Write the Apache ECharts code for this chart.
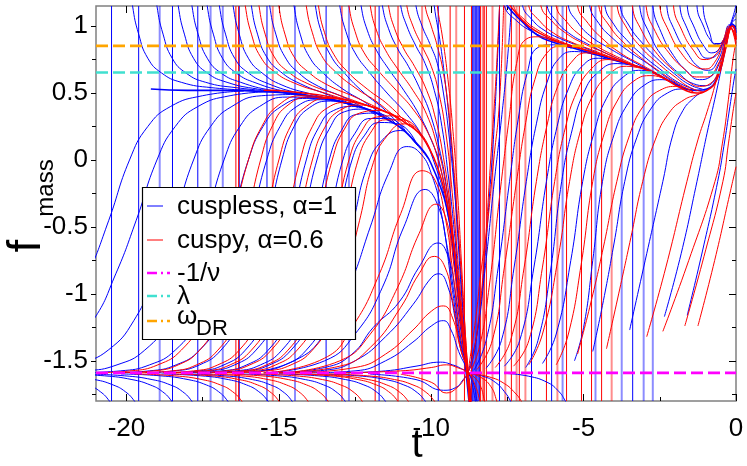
<!DOCTYPE html>
<html>
<head>
<meta charset="utf-8">
<script src="https://cdn.jsdelivr.net/npm/echarts@6/dist/echarts.min.js"></script>
<style>html,body{margin:0;padding:0;background:#fff}#c{width:747px;height:466px}</style>
</head>
<body>
<div id="c"></div>
<script>
// ---------- axes / reference values ----------
const xMin = -21, xMax = 0, yMin = -1.8, yMax = 1.15;
const xTicks = [-20, -15, -10, -5, 0];
const xMinorTicks = [-17.5, -12.5, -7.5, -2.5];
const yTicks = [-1.5, -1, -0.5, 0, 0.5, 1];
const yMinorTicks = [-1.75, -1.25, -0.75, -0.25, 0.25, 0.75];
const negInvNu = -1.59, lambdaVal = 0.653, omegaDR = 0.852;
const legendLabels = ['cuspless, α=1', 'cuspy, α=0.6', '-1/ν', 'λ', 'ω'];
const legendSub = 'DR';
const xTitle = 't', yTitle = 'f', yTitleSub = 'mass';

// ---------- vertical asymptotes ----------
const blueVerticals = [-20.49, -19.6, -18.49, -17.66, -16.3, -15.39, -13.45, -11.71, -9.77, -8.64, -8.6, -8.56, -8.53, -8.5, -8.46, -8.42, -7.76, -6.71, -6.05, -3.39];
const blueVerticalsFaint = [-18.91, -17.24, -16.84, -14.47, -12.7, -5.69, -4.61, -3.75, -3.03, -2.73];
const redVerticals = [-16.41, -16.32, -12.93, -11.84, -11.09, -9.38, -8.91, -8.68, -8.38, -8.3, -8.26, -8.19, -7.37, -7.11, -6.22, -5.56, -5.07, -4.74, -4.41];
const redVerticalsFaint = [-15.2, -10.3, -9.18, -7.99, -7.57, -7.2, -6.91, -5.86, -4.08];

// ---------- cuspless (blue) trajectories ----------
const blueAttractor = [[-19.2,0.53],[-18,0.52],[-17,0.52],[-15,0.505],[-14,0.48],[-13,0.44],[-12,0.37],[-11.5,0.31],[-11,0.24],[-10.5,0.13],[-10.2,0.05],[-10,-0.03],[-9.7,-0.2],[-9.5,-0.35],[-9.3,-0.6],[-9.15,-0.9],[-9.0,-1.25],[-8.85,-1.6],[-8.72,-1.9]];
const blueLateAttractor = [[-7.7,1.25],[-7.5,1.15],[-7,1.03],[-6.5,0.93],[-6,0.88],[-5.4,0.84],[-4.8,0.8],[-4.2,0.76],[-3.6,0.72],[-3.1,0.69],[-2.5,0.63],[-1.85,0.55],[-1.3,0.52],[-0.95,0.53],[-0.63,0.61],[-0.36,0.82],[-0.2,0.99],[-0.1,1.01],[0,0.95]];
const blueFromTop = [
 [[-19.92,1.4],[-19.8,1.15],[-19.6,0.94],[-19.3,0.76],[-18.85,0.65],[-18.2,0.58],[-17.2,0.54],[-15.8,0.52]],
 [[-19.12,1.4],[-19,1.15],[-18.8,0.94],[-18.5,0.76],[-18.05,0.65],[-17.4,0.58],[-16.4,0.54],[-15,0.51]],
 [[-18.42,1.4],[-18.3,1.15],[-18.1,0.94],[-17.8,0.76],[-17.35,0.65],[-16.7,0.58],[-15.7,0.53],[-14.3,0.49]],
 [[-17.97,1.4],[-17.85,1.15],[-17.65,0.94],[-17.35,0.76],[-16.9,0.65],[-16.25,0.58],[-15.25,0.52],[-13.9,0.47]],
 [[-17.47,1.4],[-17.35,1.15],[-17.15,0.94],[-16.85,0.76],[-16.4,0.65],[-15.75,0.575],[-14.75,0.51],[-13.4,0.455]],
 [[-17.07,1.4],[-16.95,1.15],[-16.75,0.94],[-16.45,0.76],[-16,0.65],[-15.35,0.57],[-14.35,0.5],[-13,0.44]],
 [[-16.62,1.4],[-16.5,1.15],[-16.3,0.94],[-16,0.76],[-15.55,0.65],[-14.9,0.56],[-13.9,0.49],[-12.6,0.41]],
 [[-16.02,1.4],[-15.9,1.15],[-15.7,0.94],[-15.4,0.77],[-14.95,0.66],[-14.3,0.57],[-13.3,0.48],[-12.3,0.39]],
 [[-15.42,1.4],[-15.3,1.15],[-15.1,0.94],[-14.8,0.77],[-14.35,0.65],[-13.7,0.55],[-12.8,0.46],[-11.8,0.335]],
 [[-14.62,1.4],[-14.5,1.15],[-14.3,0.94],[-14,0.77],[-13.55,0.65],[-12.9,0.53],[-12.1,0.42],[-11.3,0.285]],
 [[-13.92,1.4],[-13.8,1.15],[-13.6,0.95],[-13.3,0.78],[-12.85,0.65],[-12.2,0.5],[-11.5,0.37],[-10.8,0.2]],
 [[-13.12,1.4],[-13,1.15],[-12.8,0.96],[-12.5,0.8],[-12.05,0.66],[-11.45,0.5],[-10.8,0.34],[-10.3,0.18],[-9.9,-0.02],[-9.5,-0.35],[-9.2,-0.85],[-8.95,-1.35],[-8.8,-1.59],[-8.68,-1.9]],
 [[-12.42,1.4],[-12.3,1.15],[-12.1,0.97],[-11.8,0.82],[-11.4,0.68],[-10.9,0.52],[-10.4,0.34],[-10,0.15],[-9.7,-0.05],[-9.4,-0.45],[-9.15,-0.95],[-8.95,-1.38],[-8.8,-1.59],[-8.68,-1.9]],
 [[-11.72,1.4],[-11.6,1.15],[-11.4,0.98],[-11.1,0.83],[-10.75,0.7],[-10.35,0.52],[-10,0.32],[-9.7,0.05],[-9.5,-0.2],[-9.25,-0.65],[-9.0,-1.2],[-8.8,-1.59],[-8.7,-1.9]],
 [[-11.12,1.4],[-11,1.15],[-10.8,1.0],[-10.5,0.85],[-10.2,0.72],[-9.9,0.52],[-9.65,0.25],[-9.45,-0.1],[-9.3,-0.4],[-9.1,-0.9],[-8.93,-1.35],[-8.8,-1.59],[-8.7,-1.9]],
 [[-10.62,1.4],[-10.5,1.15],[-10.3,1.0],[-10.05,0.87],[-9.8,0.72],[-9.6,0.5],[-9.4,0.15],[-9.25,-0.2],[-9.1,-0.6],[-8.95,-1.15],[-8.8,-1.59],[-8.72,-1.9]],
 [[-10.0,1.4],[-9.9,1.15],[-9.72,0.9],[-9.55,0.6],[-9.38,0.22],[-9.22,-0.25],[-9.05,-0.85],[-8.9,-1.35],[-8.8,-1.59],[-8.74,-1.9]]
];
const blueRising = [
 [[-22,-1.2],[-21.25,-0.85],[-20.58,-0.45],[-19.9,0],[-19.3,0.25],[-18.55,0.4],[-17.5,0.48],[-16.15,0.515]],
 [[-23.05,-1.53],[-22,-1.42],[-21.1,-1.2],[-20.35,-0.85],[-19.68,-0.45],[-19,0],[-18.4,0.25],[-17.65,0.4],[-16.6,0.48],[-15.25,0.51]],
 [[-22.1,-1.575],[-21.58,-1.53],[-20.6,-1.42],[-19.76,-1.2],[-19.06,-0.85],[-18.43,-0.45],[-17.8,0],[-17.24,0.25],[-16.54,0.4],[-15.56,0.48],[-14.3,0.49]],
 [[-22.65,-1.588],[-21.35,-1.575],[-20.31,-1.53],[-19.4,-1.42],[-18.62,-1.2],[-17.97,-0.85],[-17.39,-0.45],[-16.8,0],[-16.28,0.25],[-15.63,0.4],[-14.72,0.47],[-13.55,0.46]],
 [[-21.4,-1.588],[-20.2,-1.575],[-19.24,-1.53],[-18.4,-1.42],[-17.68,-1.2],[-17.08,-0.85],[-16.54,-0.45],[-16,0],[-15.52,0.25],[-14.92,0.4],[-14.08,0.46],[-13,0.44]],
 [[-20.35,-1.588],[-19.25,-1.575],[-18.37,-1.53],[-17.6,-1.42],[-16.94,-1.2],[-16.39,-0.85],[-15.9,-0.45],[-15.4,0],[-14.96,0.25],[-14.41,0.4],[-13.64,0.45],[-12.6,0.41]],
 [[-19.4,-1.588],[-18.4,-1.575],[-17.6,-1.53],[-16.9,-1.42],[-16.3,-1.2],[-15.8,-0.85],[-15.35,-0.45],[-14.9,0],[-14.5,0.25],[-14,0.39],[-13.3,0.44],[-12.4,0.39]],
 [[-18.6,-1.588],[-17.6,-1.575],[-16.8,-1.53],[-16.1,-1.42],[-15.5,-1.2],[-15,-0.85],[-14.55,-0.45],[-14.1,0],[-13.7,0.24],[-13.2,0.37],[-12.5,0.4],[-11.6,0.322]],
 [[-18.25,-1.588],[-17.25,-1.575],[-16.45,-1.53],[-15.75,-1.42],[-15.15,-1.2],[-14.65,-0.85],[-14.2,-0.45],[-13.75,0],[-13.35,0.23],[-12.85,0.36],[-12.2,0.38],[-11.4,0.296]],
 [[-17.85,-1.588],[-16.85,-1.575],[-16.05,-1.53],[-15.35,-1.42],[-14.75,-1.2],[-14.25,-0.85],[-13.8,-0.45],[-13.35,0],[-12.95,0.22],[-12.45,0.34],[-11.8,0.35],[-11.1,0.254]],
 [[-17.4,-1.588],[-16.4,-1.575],[-15.6,-1.53],[-14.9,-1.42],[-14.3,-1.2],[-13.8,-0.85],[-13.35,-0.45],[-12.9,0],[-12.5,0.2],[-12,0.31],[-11.4,0.31],[-10.8,0.2]],
 [[-17.1,-1.588],[-16.1,-1.575],[-15.3,-1.53],[-14.6,-1.42],[-14,-1.2],[-13.5,-0.85],[-13.05,-0.45],[-12.6,0],[-12.2,0.18],[-11.7,0.28],[-11.1,0.27],[-10.5,0.13]],
 [[-16.6,-1.588],[-15.6,-1.575],[-14.8,-1.53],[-14.1,-1.42],[-13.5,-1.2],[-13,-0.85],[-12.55,-0.45],[-12.1,-0.05],[-11.6,0.15],[-11,0.22],[-10.5,0.12],[-10.1,0.01]]
];
const blueHumps = [
 [[-16,-1.588],[-14.5,-1.5],[-13.5,-1.3],[-12.7,-0.95],[-12,-0.5],[-11.4,-0.1],[-10.8,0.1],[-10.4,0.06],[-10,-0.1],[-9.65,-0.42],[-9.35,-0.9],[-9.05,-1.35],[-8.8,-1.59],[-8.7,-1.9]],
 [[-15.5,-1.59],[-13.5,-1.5],[-12.5,-1.3],[-11.6,-0.95],[-10.9,-0.5],[-10.2,-0.22],[-9.8,-0.33],[-9.5,-0.62],[-9.25,-1.0],[-9.0,-1.38],[-8.8,-1.59],[-8.7,-1.9]],
 [[-15,-1.588],[-13.5,-1.55],[-12.6,-1.45],[-11.9,-1.25],[-11.05,-1.06],[-10.4,-0.8],[-9.77,-0.62],[-9.45,-0.72],[-9.2,-1.0],[-8.98,-1.35],[-8.8,-1.59],[-8.7,-1.9]],
 [[-15,-1.59],[-13.5,-1.57],[-12.5,-1.5],[-11.5,-1.32],[-10.6,-1.08],[-10,-0.88],[-9.75,-0.85],[-9.45,-0.95],[-9.2,-1.2],[-8.98,-1.45],[-8.8,-1.59],[-8.7,-1.9]],
 [[-14,-1.59],[-12.5,-1.575],[-11.5,-1.5],[-10.6,-1.36],[-10,-1.24],[-9.6,-1.2],[-9.35,-1.27],[-9.1,-1.43],[-8.8,-1.59],[-8.7,-1.75],[-8.62,-1.9]],
 [[-13,-1.59],[-11.5,-1.575],[-10.5,-1.54],[-9.7,-1.51],[-9.3,-1.53],[-9.0,-1.56],[-8.8,-1.59],[-8.65,-1.68],[-8.5,-1.9]]
];
const blueFalling = [
 [[-21.86,-1.64],[-21.26,-1.68],[-20.86,-1.73],[-20.56,-1.8],[-20.41,-1.86]],
 [[-21.94,-1.612],[-21.04,-1.64],[-20.44,-1.68],[-20.04,-1.73],[-19.74,-1.8],[-19.59,-1.86]],
 [[-22.02,-1.598],[-20.72,-1.612],[-19.82,-1.64],[-19.22,-1.68],[-18.82,-1.73],[-18.52,-1.8],[-18.37,-1.86]],
 [[-21.36,-1.598],[-20.06,-1.612],[-19.16,-1.64],[-18.56,-1.68],[-18.16,-1.73],[-17.86,-1.8],[-17.71,-1.86]],
 [[-20.18,-1.598],[-18.88,-1.612],[-17.98,-1.64],[-17.38,-1.68],[-16.98,-1.73],[-16.68,-1.8],[-16.53,-1.86]],
 [[-18.86,-1.598],[-17.56,-1.612],[-16.66,-1.64],[-16.06,-1.68],[-15.66,-1.73],[-15.36,-1.8],[-15.21,-1.86]],
 [[-18.07,-1.598],[-16.77,-1.612],[-15.87,-1.64],[-15.27,-1.68],[-14.87,-1.73],[-14.57,-1.8],[-14.42,-1.86]],
 [[-16.33,-1.598],[-15.03,-1.612],[-14.13,-1.64],[-13.53,-1.68],[-13.13,-1.73],[-12.83,-1.8],[-12.68,-1.86]],
 [[-15.01,-1.598],[-13.71,-1.612],[-12.81,-1.64],[-12.21,-1.68],[-11.81,-1.73],[-11.51,-1.8],[-11.36,-1.86]],
 [[-13.7,-1.598],[-12.4,-1.612],[-11.5,-1.64],[-10.9,-1.68],[-10.5,-1.73],[-10.2,-1.8],[-10.05,-1.86]],
 [[-8.8,-1.59],[-8.7,-1.62],[-8.6,-1.68],[-8.5,-1.8],[-8.45,-1.87]],
 [[-8.8,-1.59],[-8.3,-1.615],[-7.9,-1.66],[-7.6,-1.73],[-7.4,-1.8],[-7.3,-1.86]],
 [[-7.5,-1.595],[-6.8,-1.615],[-6.2,-1.66],[-5.85,-1.72],[-5.6,-1.8],[-5.5,-1.86]]
];
const blueRightRising = [
 [[-12,-1.6],[-10.5,-1.64],[-9.6,-1.72],[-9.2,-1.7],[-8.95,-1.64],[-8.8,-1.59],[-8.65,-1.5],[-8.5,-1.3],[-8.3,-0.9],[-8.1,-0.3],[-7.9,0.4],[-7.75,1.2]],
 [[-8.8,-1.59],[-8.5,-1.3],[-8.25,-0.85],[-7.93,-0.16],[-7.7,0.3],[-7.5,0.75],[-7.35,1.2]],
 [[-8.6,-1.57],[-8.2,-1.35],[-7.8,-0.8],[-7.43,-0.16],[-7.15,0.3],[-6.85,0.65],[-6.5,0.84],[-6,0.86],[-5.4,0.835]],
 [[-8.2,-1.555],[-7.7,-1.35],[-7.28,-0.8],[-6.88,-0.16],[-6.55,0.27],[-6.2,0.58],[-5.8,0.76],[-5.3,0.81],[-4.6,0.787]],
 [[-7.6,-1.54],[-7.1,-1.35],[-6.63,-0.8],[-6.22,-0.16],[-5.87,0.25],[-5.5,0.53],[-5.05,0.7],[-4.5,0.76],[-3.8,0.733]],
 [[-6.9,-1.55],[-6.5,-1.35],[-6.1,-0.85],[-5.72,-0.16],[-5.37,0.23],[-5.0,0.5],[-4.5,0.66],[-3.9,0.72],[-3.2,0.696]],
 [[-6.35,-1.52],[-5.9,-1.3],[-5.42,-0.75],[-5.03,-0.16],[-4.65,0.21],[-4.25,0.46],[-3.7,0.62],[-3.1,0.67],[-2.5,0.63]],
 [[-5.3,-1.5],[-5.0,-1.25],[-4.7,-0.75],[-4.38,-0.16],[-4.0,0.19],[-3.55,0.42],[-3.0,0.56],[-2.4,0.6],[-1.9,0.556]],
 [[-4.7,-1.43],[-4.35,-1.05],[-4.0,-0.62],[-3.65,-0.16],[-3.25,0.17],[-2.8,0.38],[-2.25,0.5],[-1.7,0.53],[-1.3,0.52]],
 [[-3.49,-1.27],[-2.93,-0.7],[-2.4,-0.16],[-2.07,0.19],[-1.74,0.37],[-1.4,0.46],[-1.1,0.51],[-0.9,0.535]],
 [[-2.35,-1.17],[-1.8,-0.7],[-1.28,-0.16],[-0.95,0.2],[-0.7,0.45],[-0.45,0.72],[-0.25,0.95],[-0.12,1.0],[0,0.93]],
 [[-1.6,-1.16],[-1.1,-0.68],[-0.6,-0.16],[-0.4,0.1],[-0.2,0.4],[-0.05,0.62],[0,0.68]]
];
const blueRightFromTop = [
 [[-7.7,1.3],[-7.6,1.15],[-7.2,1.04],[-6.7,0.96],[-6.1,0.9],[-5.4,0.85],[-4.6,0.795]],
 [[-7.08,1.3],[-7.0,1.15],[-6.7,1.05],[-6.3,0.97],[-5.7,0.9],[-5.0,0.84],[-4.2,0.765]],
 [[-6.28,1.3],[-6.2,1.15],[-5.9,1.04],[-5.5,0.95],[-4.9,0.87],[-4.2,0.79],[-3.4,0.71]],
 [[-5.56,1.3],[-5.5,1.15],[-5.2,1.03],[-4.8,0.93],[-4.2,0.84],[-3.5,0.75],[-2.8,0.665]],
 [[-4.86,1.3],[-4.8,1.15],[-4.5,1.02],[-4.1,0.92],[-3.5,0.81],[-2.9,0.72],[-2.3,0.62],[-1.8,0.55]],
 [[-4.35,1.3],[-4.3,1.15],[-4.0,1.01],[-3.6,0.9],[-3.1,0.79],[-2.5,0.68],[-1.9,0.58],[-1.4,0.53]],
 [[-3.85,1.3],[-3.8,1.15],[-3.5,1.0],[-3.1,0.88],[-2.6,0.76],[-2.0,0.64],[-1.5,0.56],[-1.1,0.53]],
 [[-3.2,1.3],[-3.16,1.15],[-2.83,0.94],[-2.4,0.77],[-1.84,0.64],[-1.4,0.57],[-1.0,0.555],[-0.7,0.6],[-0.45,0.74],[-0.25,0.94],[-0.12,1.02],[0,0.98]],
 [[-2.77,1.3],[-2.73,1.15],[-2.45,0.95],[-2.05,0.78],[-1.6,0.66],[-1.2,0.6],[-0.85,0.62],[-0.55,0.72],[-0.3,0.9],[-0.15,1.0],[0,0.97]],
 [[-2.3,1.3],[-2.27,1.15],[-2.0,0.96],[-1.6,0.8],[-1.2,0.69],[-0.9,0.67],[-0.6,0.74],[-0.35,0.9],[-0.18,1.0],[0,0.98]],
 [[-1.87,1.3],[-1.84,1.15],[-1.6,0.98],[-1.25,0.83],[-0.95,0.76],[-0.65,0.78],[-0.4,0.9],[-0.2,1.01],[0,1.0]],
 [[-1.63,1.3],[-1.6,1.15],[-1.35,0.98],[-1.05,0.85],[-0.8,0.8],[-0.55,0.83],[-0.3,0.94],[-0.12,1.03],[0,1.05]],
 [[-1.3,1.3],[-1.28,1.15],[-1.05,0.99],[-0.85,0.9],[-0.65,0.86],[-0.4,0.9],[-0.2,1.0],[0,1.1]],
 [[-1.1,1.3],[-1.08,1.15],[-0.85,0.94],[-0.7,0.87],[-0.5,0.87],[-0.3,0.95],[-0.1,1.07],[0,1.16]]
];

// ---------- cuspy (red) trajectories ----------
const redAttractor = [[-15.5,0.52],[-14.6,0.51],[-13,0.46],[-12,0.4],[-11.3,0.34],[-10.8,0.27],[-10.4,0.2],[-10.1,0.1],[-9.8,-0.05],[-9.55,-0.25],[-9.35,-0.5],[-9.15,-0.85],[-9.0,-1.2],[-8.85,-1.55],[-8.72,-1.85]];
const redLateAttractor = [[-7.6,1.22],[-7.3,1.12],[-6.8,1.0],[-6.3,0.93],[-5.8,0.88],[-5.2,0.84],[-4.6,0.8],[-4,0.755],[-3.4,0.71],[-2.9,0.67],[-2.3,0.6],[-1.75,0.53],[-1.3,0.5],[-0.95,0.52],[-0.63,0.6],[-0.36,0.81],[-0.2,0.98],[-0.1,1.0],[0,0.9]];
const redFromTop = [
 [[-16.22,1.4],[-16.1,1.15],[-15.9,0.94],[-15.6,0.77],[-15.15,0.66],[-14.5,0.575],[-13.5,0.5],[-12.5,0.43]],
 [[-15.77,1.4],[-15.65,1.15],[-15.45,0.94],[-15.15,0.77],[-14.7,0.66],[-14.05,0.57],[-13.1,0.49],[-12,0.4]],
 [[-15.12,1.4],[-15,1.15],[-14.8,0.94],[-14.5,0.77],[-14.05,0.66],[-13.4,0.56],[-12.5,0.47],[-11.5,0.36]],
 [[-14.22,1.4],[-14.1,1.15],[-13.9,0.95],[-13.6,0.78],[-13.15,0.66],[-12.5,0.54],[-11.7,0.42],[-10.9,0.26]],
 [[-13.82,1.4],[-13.7,1.15],[-13.5,0.95],[-13.2,0.79],[-12.75,0.66],[-12.1,0.53],[-11.4,0.41],[-10.7,0.25]],
 [[-12.82,1.4],[-12.7,1.15],[-12.5,0.96],[-12.2,0.8],[-11.75,0.67],[-11.15,0.52],[-10.6,0.38],[-10.1,0.2],[-9.8,0.02],[-9.5,-0.28],[-9.25,-0.68],[-9.02,-1.15],[-8.8,-1.59],[-8.7,-1.9]],
 [[-12.12,1.4],[-12,1.15],[-11.8,0.97],[-11.5,0.82],[-11.1,0.68],[-10.6,0.52],[-10.15,0.34],[-9.8,0.1],[-9.55,-0.15],[-9.3,-0.55],[-9.05,-1.08],[-8.8,-1.59],[-8.7,-1.9]],
 [[-11.52,1.4],[-11.4,1.15],[-11.2,0.98],[-10.9,0.83],[-10.55,0.7],[-10.15,0.52],[-9.85,0.3],[-9.6,0.02],[-9.4,-0.3],[-9.2,-0.75],[-9.0,-1.2],[-8.8,-1.59],[-8.7,-1.9]],
 [[-10.92,1.4],[-10.8,1.15],[-10.6,1.0],[-10.3,0.85],[-10.0,0.7],[-9.75,0.5],[-9.52,0.2],[-9.35,-0.15],[-9.2,-0.55],[-9.0,-1.1],[-8.8,-1.59],[-8.7,-1.9]],
 [[-10.32,1.4],[-10.2,1.15],[-10.0,1.0],[-9.8,0.85],[-9.6,0.65],[-9.42,0.35],[-9.28,0.0],[-9.15,-0.4],[-9.0,-0.9],[-8.88,-1.3],[-8.8,-1.59],[-8.72,-1.9]],
 [[-9.9,1.4],[-9.8,1.15],[-9.62,0.9],[-9.45,0.6],[-9.3,0.25],[-9.15,-0.2],[-9.0,-0.8],[-8.88,-1.3],[-8.8,-1.59],[-8.75,-1.9]]
];
const redRising = [
 [[-20.95,-1.588],[-19.85,-1.575],[-18.97,-1.53],[-18.2,-1.42],[-17.54,-1.2],[-16.99,-0.85],[-16.5,-0.45],[-16,0],[-15.56,0.25],[-15.01,0.41],[-14.24,0.48],[-13.2,0.46]],
 [[-20.1,-1.588],[-19.1,-1.575],[-18.3,-1.53],[-17.6,-1.42],[-17,-1.2],[-16.5,-0.85],[-16.05,-0.45],[-15.6,0],[-15.2,0.26],[-14.7,0.41],[-14.0,0.47],[-13.1,0.46]],
 [[-19.5,-1.588],[-18.5,-1.575],[-17.7,-1.53],[-17,-1.42],[-16.4,-1.2],[-15.9,-0.85],[-15.45,-0.45],[-15,0],[-14.6,0.26],[-14.1,0.4],[-13.4,0.46],[-12.5,0.43]],
 [[-18.8,-1.588],[-17.8,-1.575],[-17,-1.53],[-16.3,-1.42],[-15.7,-1.2],[-15.2,-0.85],[-14.75,-0.45],[-14.3,0],[-13.9,0.25],[-13.4,0.39],[-12.7,0.43],[-11.8,0.383]],
 [[-18.4,-1.588],[-17.4,-1.575],[-16.6,-1.53],[-15.9,-1.42],[-15.3,-1.2],[-14.8,-0.85],[-14.35,-0.45],[-13.9,0],[-13.5,0.24],[-13.0,0.37],[-12.3,0.41],[-11.5,0.357]],
 [[-17.75,-1.588],[-16.75,-1.575],[-15.95,-1.53],[-15.25,-1.42],[-14.65,-1.2],[-14.15,-0.85],[-13.7,-0.45],[-13.25,0],[-12.85,0.23],[-12.35,0.35],[-11.7,0.37],[-11,0.3]],
 [[-17.2,-1.588],[-16.2,-1.575],[-15.4,-1.53],[-14.7,-1.42],[-14.1,-1.2],[-13.6,-0.85],[-13.15,-0.45],[-12.7,0],[-12.3,0.21],[-11.8,0.32],[-11.2,0.33],[-10.5,0.218]],
 [[-16.9,-1.588],[-15.9,-1.575],[-15.1,-1.53],[-14.4,-1.42],[-13.8,-1.2],[-13.3,-0.85],[-12.85,-0.45],[-12.4,0],[-12,0.2],[-11.5,0.3],[-10.9,0.3],[-10.3,0.167]],
 [[-16.4,-1.588],[-15.4,-1.575],[-14.6,-1.53],[-13.9,-1.42],[-13.3,-1.2],[-12.8,-0.85],[-12.35,-0.45],[-11.9,-0.02],[-11.45,0.18],[-10.9,0.27],[-10.35,0.2],[-9.95,0.025]]
];
const redHumps = [
 [[-15.5,-1.59],[-13.5,-1.48],[-12.6,-1.25],[-11.7,-0.85],[-11,-0.4],[-10.3,-0.08],[-9.9,-0.14],[-9.55,-0.42],[-9.3,-0.82],[-9.05,-1.3],[-8.8,-1.59],[-8.7,-1.9]],
 [[-15,-1.59],[-13,-1.5],[-12,-1.3],[-11.1,-0.95],[-10.4,-0.55],[-9.84,-0.33],[-9.5,-0.45],[-9.25,-0.8],[-9.02,-1.25],[-8.8,-1.59],[-8.7,-1.9]],
 [[-15,-1.59],[-13,-1.54],[-12,-1.4],[-11,-1.1],[-10.4,-0.85],[-9.9,-0.72],[-9.55,-0.8],[-9.3,-1.05],[-9.05,-1.4],[-8.8,-1.59],[-8.7,-1.9]],
 [[-14.5,-1.59],[-12.5,-1.55],[-11.5,-1.45],[-10.6,-1.27],[-10,-1.13],[-9.6,-1.09],[-9.3,-1.18],[-9.05,-1.4],[-8.8,-1.59],[-8.68,-1.8],[-8.6,-1.9]],
 [[-13,-1.59],[-11,-1.575],[-10,-1.55],[-9.5,-1.53],[-9.15,-1.55],[-8.8,-1.59],[-8.6,-1.66],[-8.4,-1.8],[-8.3,-1.9]]
];
const redFalling = [
 [[-19.72,-1.598],[-18.42,-1.612],[-17.52,-1.64],[-16.92,-1.68],[-16.52,-1.73],[-16.22,-1.8],[-16.07,-1.86]],
 [[-18.5,-1.598],[-17.2,-1.612],[-16.3,-1.64],[-15.7,-1.68],[-15.3,-1.73],[-15.0,-1.8],[-14.85,-1.86]],
 [[-17.55,-1.598],[-16.25,-1.612],[-15.35,-1.64],[-14.75,-1.68],[-14.35,-1.73],[-14.05,-1.8],[-13.9,-1.86]],
 [[-16.89,-1.598],[-15.59,-1.612],[-14.69,-1.64],[-14.09,-1.68],[-13.69,-1.73],[-13.39,-1.8],[-13.24,-1.86]],
 [[-15.77,-1.598],[-14.47,-1.612],[-13.57,-1.64],[-12.97,-1.68],[-12.57,-1.73],[-12.27,-1.8],[-12.12,-1.86]],
 [[-14.6,-1.598],[-13.3,-1.612],[-12.4,-1.64],[-11.8,-1.68],[-11.4,-1.73],[-11.1,-1.8],[-10.95,-1.86]],
 [[-14.26,-1.598],[-12.96,-1.612],[-12.06,-1.64],[-11.46,-1.68],[-11.06,-1.73],[-10.76,-1.8],[-10.61,-1.86]],
 [[-13.4,-1.598],[-12.1,-1.612],[-11.2,-1.64],[-10.6,-1.68],[-10.2,-1.73],[-9.9,-1.8],[-9.75,-1.86]],
 [[-8.8,-1.59],[-8.6,-1.62],[-8.4,-1.68],[-8.25,-1.8],[-8.18,-1.87]],
 [[-8.8,-1.59],[-8.4,-1.62],[-8.05,-1.69],[-7.85,-1.8],[-7.77,-1.87]],
 [[-8.8,-1.59],[-8.1,-1.62],[-7.6,-1.67],[-7.25,-1.74],[-7.05,-1.8],[-6.95,-1.86]]
];
const redRightRising = [
 [[-11,-1.6],[-10,-1.66],[-9.5,-1.74],[-9.15,-1.7],[-8.9,-1.63],[-8.8,-1.59],[-8.65,-1.48],[-8.45,-1.2],[-8.25,-0.7],[-8.05,0],[-7.88,0.6],[-7.75,1.2]],
 [[-8.8,-1.59],[-8.55,-1.2],[-8.35,-0.8],[-8.19,-0.55],[-7.95,0],[-7.76,0.44],[-7.62,1.2]],
 [[-8.7,-1.575],[-8.4,-1.38],[-8.1,-0.95],[-7.7,-0.16],[-7.45,0.3],[-7.2,0.72],[-6.9,0.9],[-6.5,0.92],[-6,0.89],[-5.5,0.855]],
 [[-8.5,-1.565],[-8.0,-1.35],[-7.6,-0.8],[-7.2,-0.16],[-6.9,0.28],[-6.6,0.6],[-6.2,0.8],[-5.7,0.85],[-5,0.827]],
 [[-7.9,-1.55],[-7.4,-1.35],[-6.95,-0.8],[-6.55,-0.16],[-6.2,0.26],[-5.85,0.55],[-5.4,0.73],[-4.9,0.8],[-4.2,0.77]],
 [[-7.3,-1.54],[-6.8,-1.35],[-6.35,-0.8],[-5.95,-0.16],[-5.6,0.24],[-5.22,0.51],[-4.75,0.68],[-4.2,0.75],[-3.5,0.717]],
 [[-6.8,-1.53],[-6.35,-1.3],[-5.85,-0.75],[-5.46,-0.16],[-5.1,0.22],[-4.7,0.48],[-4.2,0.63],[-3.6,0.7],[-2.9,0.67]],
 [[-5.9,-1.53],[-5.5,-1.3],[-5.08,-0.78],[-4.7,-0.16],[-4.32,0.2],[-3.9,0.44],[-3.35,0.59],[-2.75,0.63],[-2.2,0.587]],
 [[-5.2,-1.45],[-4.8,-1.1],[-4.35,-0.65],[-3.91,-0.16],[-3.5,0.18],[-3.05,0.4],[-2.5,0.52],[-1.9,0.55],[-1.4,0.505]],
 [[-4.25,-1.41],[-3.85,-1.0],[-3.45,-0.58],[-3.06,-0.16],[-2.65,0.15],[-2.2,0.35],[-1.7,0.45],[-1.25,0.49],[-0.95,0.52]],
 [[-2.93,-1.32],[-2.3,-0.8],[-1.61,-0.16],[-1.25,0.15],[-0.95,0.36],[-0.7,0.55],[-0.45,0.78],[-0.25,0.97],[-0.12,1.0],[0,0.9]],
 [[-2.4,-1.28],[-1.55,-0.75],[-0.69,-0.16],[-0.45,0.12],[-0.25,0.45],[-0.1,0.75],[0,0.88]],
 [[-1.68,-1.24],[-1.05,-0.72],[-0.43,-0.16],[-0.25,0.12],[-0.1,0.36],[0,0.5]],
 [[-1.25,-1.24],[-0.7,-0.75],[-0.2,-0.25],[0,-0.05]]
];
const redRightFromTop = [
 [[-7.4,1.3],[-7.3,1.15],[-6.95,1.05],[-6.5,0.97],[-5.9,0.9],[-5.2,0.84],[-4.4,0.785]],
 [[-6.88,1.3],[-6.8,1.15],[-6.45,1.04],[-6.0,0.95],[-5.4,0.88],[-4.7,0.82],[-3.9,0.75]],
 [[-6.47,1.3],[-6.4,1.15],[-6.05,1.04],[-5.6,0.95],[-5.0,0.87],[-4.3,0.8],[-3.5,0.717]],
 [[-5.96,1.3],[-5.9,1.15],[-5.55,1.03],[-5.1,0.93],[-4.5,0.84],[-3.8,0.76],[-3.1,0.686]],
 [[-5.26,1.3],[-5.2,1.15],[-4.85,1.02],[-4.4,0.91],[-3.8,0.8],[-3.1,0.71],[-2.5,0.635],[-2.0,0.565]],
 [[-4.55,1.3],[-4.5,1.15],[-4.15,1.0],[-3.7,0.88],[-3.1,0.76],[-2.5,0.66],[-1.9,0.57],[-1.4,0.51]],
 [[-3.95,1.3],[-3.9,1.15],[-3.57,0.98],[-3.15,0.85],[-2.6,0.73],[-2.0,0.62],[-1.5,0.54],[-1.1,0.51]],
 [[-3.44,1.3],[-3.4,1.15],[-3.08,0.96],[-2.65,0.81],[-2.1,0.68],[-1.6,0.59],[-1.2,0.55],[-0.85,0.57],[-0.55,0.68],[-0.3,0.88],[-0.15,0.98],[0,0.92]],
 [[-2.99,1.3],[-2.95,1.15],[-2.65,0.96],[-2.2,0.8],[-1.7,0.68],[-1.3,0.62],[-0.95,0.62],[-0.6,0.71],[-0.35,0.87],[-0.17,0.99],[0,0.9]],
 [[-2.54,1.3],[-2.5,1.15],[-2.2,0.96],[-1.8,0.8],[-1.35,0.7],[-1.0,0.68],[-0.7,0.73],[-0.4,0.88],[-0.2,0.99],[0,0.88]],
 [[-2.08,1.3],[-2.05,1.15],[-1.78,0.97],[-1.4,0.82],[-1.05,0.75],[-0.75,0.77],[-0.45,0.88],[-0.22,1.0],[0,0.85]]
];

// ---------- build the chart ----------
const BLUE = '#0000ff', RED = '#ff0000';
const NAME_B = legendLabels[0], NAME_R = legendLabels[1];
const FONT = '"Liberation Sans", Arial, Helvetica, sans-serif';
const series = [];

function addVertical(v, color, width, opacity, name) {
  series.push({type: 'line', name, data: [[v, yMin], [v, yMax]], symbol: 'none', silent: true,
    animation: false, z: 1, lineStyle: {color, width, opacity}, emphasis: {disabled: true}});
}
function addCurves(list, color, name, width, z) {
  list.forEach(function (pts) {
    series.push({type: 'line', name, data: pts, symbol: 'none', showSymbol: false,
      smooth: 0.5, clip: true, silent: true, animation: false, z,
      lineStyle: {color, width}, itemStyle: {color}, emphasis: {disabled: true}});
  });
}
blueVerticals.forEach(v => addVertical(v, BLUE, 1, 1, NAME_B));
blueVerticalsFaint.forEach(v => addVertical(v, BLUE, 2, 0.45, NAME_B));
redVerticals.forEach(v => addVertical(v, RED, 1, 1, NAME_R));
redVerticalsFaint.forEach(v => addVertical(v, RED, 2, 0.45, NAME_R));

addCurves([blueAttractor, blueLateAttractor], BLUE, NAME_B, 1.6, 2);
addCurves(blueFromTop, BLUE, NAME_B, 1, 2);
addCurves(blueRising, BLUE, NAME_B, 1, 2);
addCurves(blueHumps, BLUE, NAME_B, 1, 2);
addCurves(blueFalling, BLUE, NAME_B, 1, 2);
addCurves(blueRightRising, BLUE, NAME_B, 1, 2);
addCurves(blueRightFromTop, BLUE, NAME_B, 1, 2);

addCurves([redAttractor, redLateAttractor], RED, NAME_R, 1.5, 3);
addCurves(redFromTop, RED, NAME_R, 1, 3);
addCurves(redRising, RED, NAME_R, 1, 3);
addCurves(redHumps, RED, NAME_R, 1, 3);
addCurves(redFalling, RED, NAME_R, 1, 3);
addCurves(redRightRising, RED, NAME_R, 1, 3);
addCurves(redRightFromTop, RED, NAME_R, 1, 3);

function addLevel(val, color, name) {
  series.push({type: 'line', name, data: [[xMin, val], [xMax, val]], symbol: 'none', silent: true,
    animation: false, z: 5, lineStyle: {color, width: 2.6, type: [12, 5]}, emphasis: {disabled: true}});
}
addLevel(negInvNu, '#ff00ff', legendLabels[2]);
addLevel(lambdaVal, '#40e0d0', legendLabels[3]);
addLevel(omegaDR, '#ffa500', legendLabels[4] + legendSub);

function xAx(pos, ticks, len, labels) {
  return {type: 'value', min: xMin, max: xMax, position: pos,
    axisLine: {show: false, onZero: false}, splitLine: {show: false},
    axisTick: {show: true, inside: true, length: len, customValues: ticks, lineStyle: {color: '#000', width: 1}},
    axisLabel: labels ? {show: true, customValues: ticks, fontSize: 26, color: '#000', fontFamily: FONT, margin: 15} : {show: false}};
}
function yAx(pos, ticks, len, inside, labels) {
  return {type: 'value', min: yMin, max: yMax, position: pos,
    axisLine: {show: false, onZero: false}, splitLine: {show: false},
    axisTick: {show: true, inside, length: len, customValues: ticks, lineStyle: {color: '#000', width: 1}},
    axisLabel: labels ? {show: true, customValues: ticks, fontSize: 26, color: '#000', fontFamily: FONT, margin: 8} : {show: false}};
}

const legendRows = [206, 240, 273, 296, 321];
const legendColors = [BLUE, RED, '#ff00ff', '#40e0d0', '#ffa500'];
const graphic = [
  {type: 'rect', z: 50, shape: {x: 142.5, y: 187.5, width: 213, height: 152},
   style: {fill: '#fff', stroke: '#000', lineWidth: 1.2}}
];
legendRows.forEach(function (y, i) {
  const dashed = i >= 2;
  graphic.push({type: 'line', z: 51, shape: {x1: 147, y1: y, x2: dashed ? 170 : 163, y2: y},
    style: {stroke: legendColors[i], lineWidth: dashed ? 2.6 : 1, lineDash: dashed ? [10, 4, 2, 4] : null}});
  graphic.push({type: 'text', z: 51, x: 177, y: i === 4 ? y - 4 : y + 1,
    style: {text: legendLabels[i], font: '26px ' + FONT, fill: '#000', textVerticalAlign: 'middle'}});
});
graphic.push({type: 'text', z: 51, x: 196, y: 329,
  style: {text: legendSub, font: '22px ' + FONT, fill: '#000', textVerticalAlign: 'middle'}});
graphic.push({type: 'text', z: 51, x: 27, y: 246, rotation: Math.PI / 2,
  style: {text: yTitle, font: '46px ' + FONT, fill: '#000', textAlign: 'center', textVerticalAlign: 'middle'}});
graphic.push({type: 'text', z: 51, x: 46, y: 188, rotation: Math.PI / 2,
  style: {text: yTitleSub, font: '24px ' + FONT, fill: '#000', textAlign: 'center', textVerticalAlign: 'middle'}});
graphic.push({type: 'text', z: 51, x: 417, y: 446,
  style: {text: xTitle, font: '40px ' + FONT, fill: '#000', textAlign: 'center', textVerticalAlign: 'middle'}});

const chart = echarts.init(document.getElementById('c'), null, {renderer: 'canvas'});
chart.setOption({
  animation: false,
  backgroundColor: '#fff',
  grid: {left: 96, right: 11, top: 6, bottom: 65, show: true, borderColor: '#808080', borderWidth: 1.5,
    backgroundColor: 'transparent', containLabel: false, outerBoundsMode: 'none'},
  xAxis: [xAx('bottom', xTicks, 7, true), xAx('bottom', xMinorTicks, 4, false), xAx('top', xTicks, 7, false), xAx('top', xMinorTicks, 4, false)],
  yAxis: [yAx('left', yTicks, 5, false, true), yAx('left', yMinorTicks, 4, false, false),
          yAx('right', yTicks, 7, true, false), yAx('right', yMinorTicks, 4, true, false)],
  series: series,
  graphic: graphic
});
</script>
</body>
</html>
